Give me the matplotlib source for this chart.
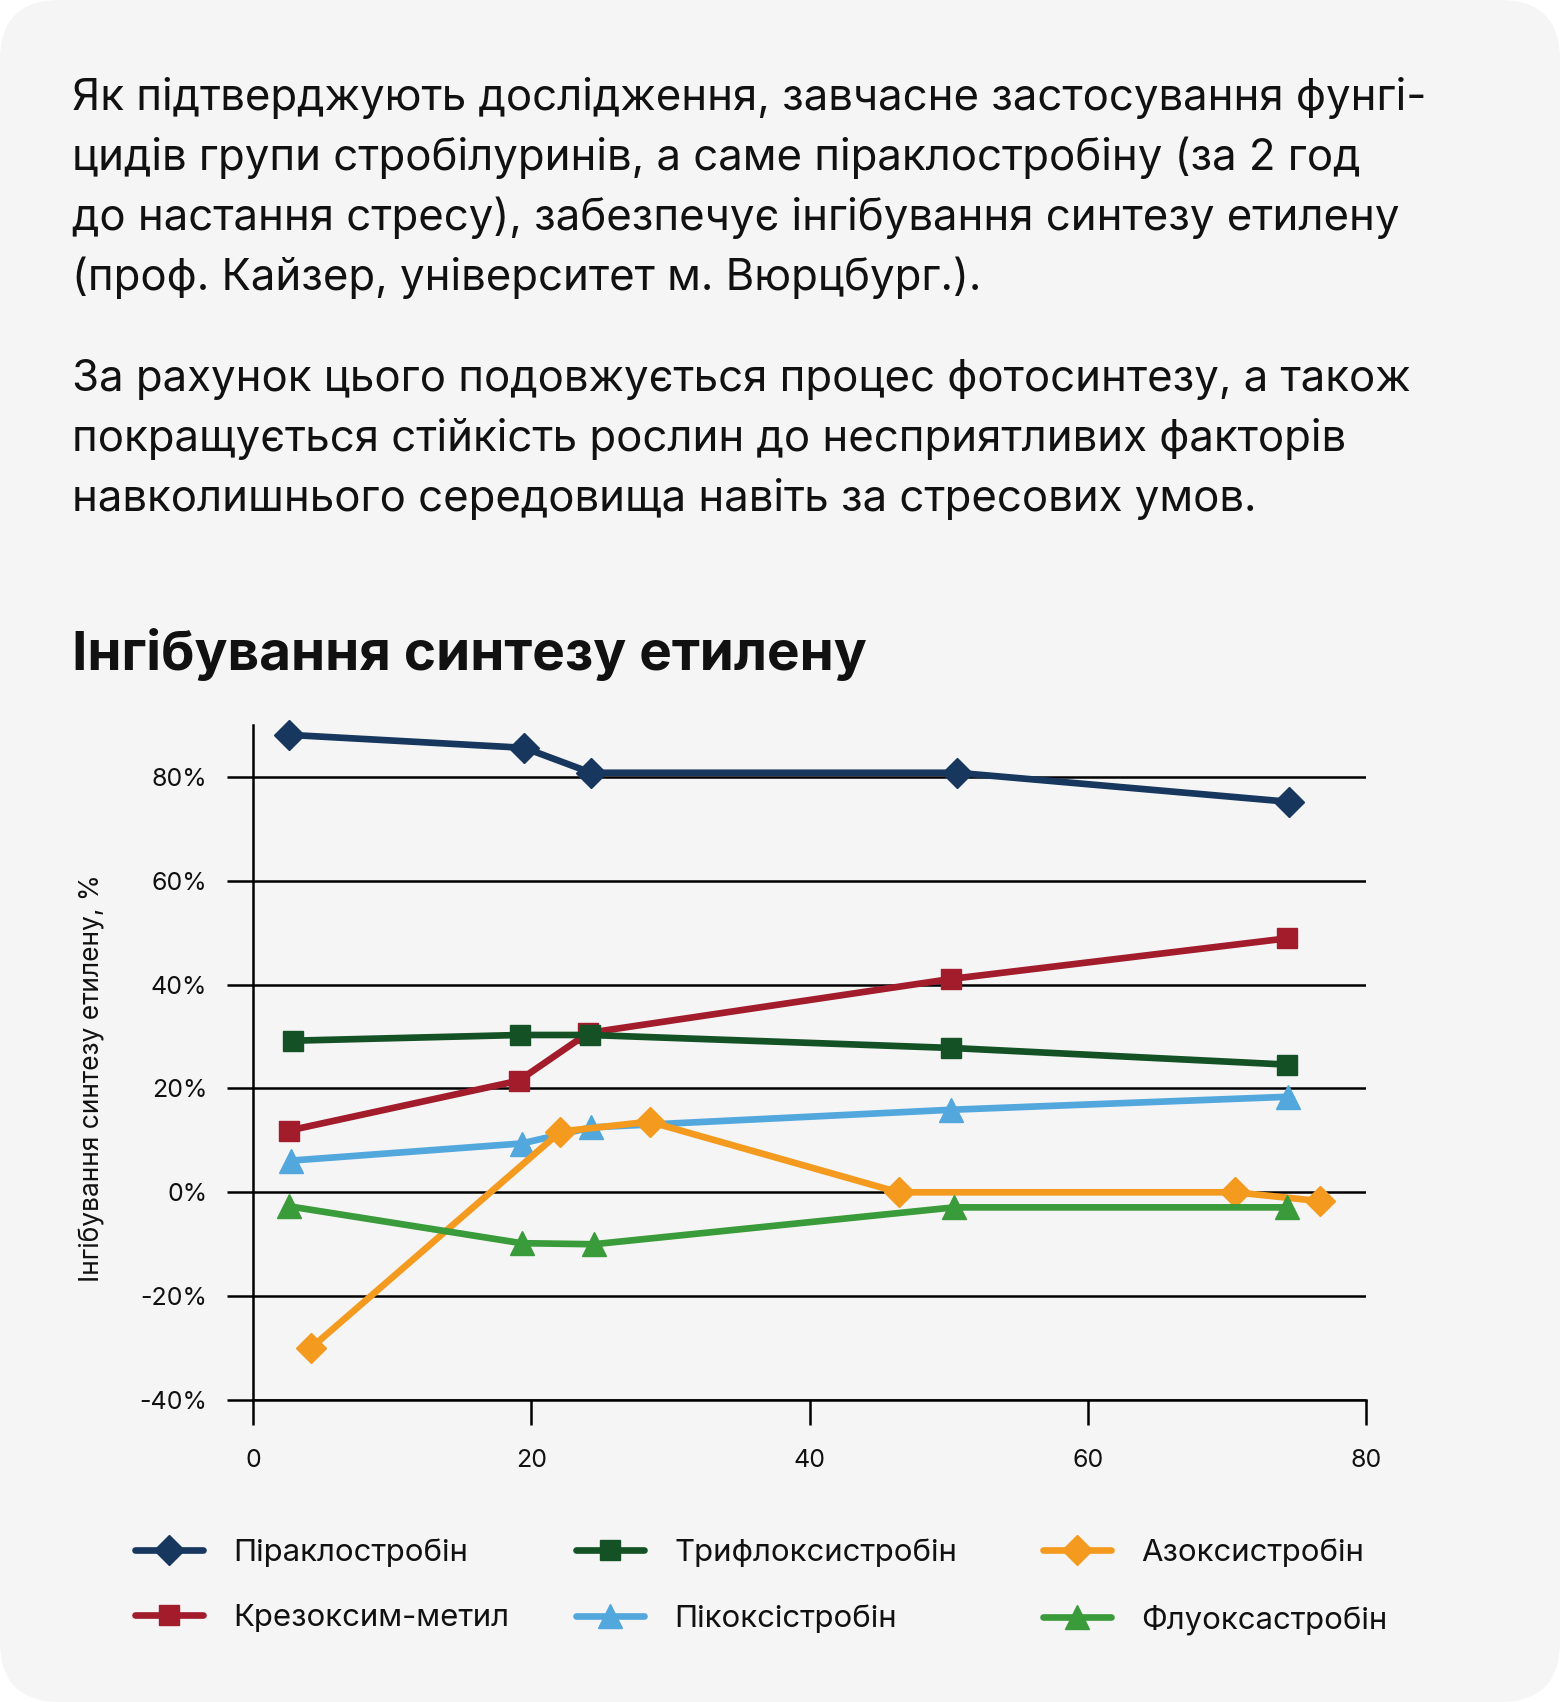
import matplotlib
matplotlib.use('Agg')
import matplotlib.pyplot as plt
import matplotlib.patches as mpatches
from matplotlib.lines import Line2D

plt.rcParams['font.family'] = ['Inter', 'DejaVu Sans']

# data (x is the unlabelled axis, y is inhibition in %)
pyraclo_x = [2.6, 19.5, 24.3, 50.6, 74.5]
pyraclo_y = [88.1, 85.6, 80.8, 80.8, 75.2]
kresox_x = [2.6, 19.1, 24.1, 50.2, 74.3]
kresox_y = [11.9, 21.5, 30.7, 41.1, 48.9]
triflox_x = [2.9, 19.2, 24.2, 50.2, 74.3]
triflox_y = [29.2, 30.3, 30.3, 27.8, 24.6]
picox_x = [2.7, 19.3, 24.3, 50.2, 74.4]
picox_y = [6.1, 9.4, 12.5, 15.9, 18.4]
azox_x = [4.2, 22.1, 28.5, 46.4, 70.6, 76.7]
azox_y = [-29.9, 11.7, 13.6, 0.0, 0.0, -1.7]
fluox_x = [2.6, 19.3, 24.5, 50.4, 74.3]
fluox_y = [-2.7, -9.8, -10.0, -2.9, -2.9]

names = ['Піраклостробін', 'Крезоксим-метил', 'Трифлоксистробін',
         'Пікоксістробін', 'Азоксистробін', 'Флуоксастробін']
colors = ['#17375e', '#a21c2c', '#145226', '#52a7dd', '#f39a1f', '#3a9b3a']
markers = ['D', 's', 's', '^', 'D', '^']
msizes = [15, 14.5, 14.5, 17, 15, 17]

x_ticks = [0, 20, 40, 60, 80]
y_ticks = [-40, -20, 0, 20, 40, 60, 80]

para1 = ['Як підтверджують дослідження, завчасне застосування фунгі-',
         'цидів групи стробілуринів, а саме піраклостробіну (за 2 год',
         'до настання стресу), забезпечує інгібування синтезу етилену',
         '(проф. Кайзер, університет м. Вюрцбург.).']
para2 = ['За рахунок цього подовжується процес фотосинтезу, а також',
         'покращується стійкість рослин до несприятливих факторів',
         'навколишнього середовища навіть за стресових умов.']
title = 'Інгібування синтезу етилену'
ylabel = 'Інгібування синтезу етилену, %'

W, H = 1560, 1702
fig = plt.figure(figsize=(W / 100, H / 100), dpi=100, facecolor='white')

# rounded grey card behind everything
card = mpatches.FancyBboxPatch((0, 0), W / 100, H / 100,
                               boxstyle='round,pad=0,rounding_size=0.6',
                               transform=fig.dpi_scale_trans,
                               facecolor='#f5f5f5', edgecolor='none', zorder=-10)
fig.patches.append(card)

def fx(px):
    return px / W

def fy(py):
    return 1 - py / H

txt_color = '#111111'
for i, line in enumerate(para1):
    fig.text(fx(72), fy(110 + 60 * i), line, fontsize=31.5, color=txt_color, va='baseline')
for i, line in enumerate(para2):
    fig.text(fx(72), fy(391 + 60 * i), line, fontsize=31.5, color=txt_color, va='baseline')
fig.text(fx(72), fy(670), title, fontsize=39.5, fontweight='bold', color=txt_color, va='baseline')

ax = fig.add_axes([fx(253), fy(1400), fx(1366) - fx(253), (1400 - 725) / H])
ax.set_facecolor('none')

series = [(pyraclo_x, pyraclo_y), (kresox_x, kresox_y), (triflox_x, triflox_y),
          (picox_x, picox_y), (azox_x, azox_y), (fluox_x, fluox_y)]
for (xs, ys), name, c, m, ms in zip(series, names, colors, markers, msizes):
    ax.plot(xs, ys, color=c, lw=4.8, marker=m, ms=ms, mec=c, mfc=c,
            label=name, clip_on=False, zorder=3)

ax.set_xlim(0, 80)
ax.set_ylim(-40, 90)
ax.set_xticks(x_ticks)
ax.set_yticks(y_ticks)
ax.set_yticklabels([f'{v}%' for v in y_ticks])
ax.yaxis.grid(True, color='black', lw=1.8)
ax.set_axisbelow(True)
for s in ['top', 'right']:
    ax.spines[s].set_visible(False)
for s in ['left', 'bottom']:
    ax.spines[s].set_linewidth(1.8)
    ax.spines[s].set_color('black')
ax.tick_params(axis='y', length=19, width=1.8, pad=14, labelsize=18, labelcolor=txt_color)
ax.tick_params(axis='x', length=18, width=1.8, pad=17, labelsize=18, labelcolor=txt_color)

fig.text(fx(92), fy(1078), ylabel, rotation=90, fontsize=19, color=txt_color,
         ha='center', va='center')

# legend: three columns, two rows
handles = [Line2D([], [], color=c, lw=4.8, marker=m, ms=ms, mec=c, mfc=c,
                  solid_capstyle='round')
           for c, m, ms in zip(colors, markers, msizes)]
col_x = [135, 576, 1043]
for k in range(3):
    leg = fig.legend(handles[2 * k:2 * k + 2], names[2 * k:2 * k + 2],
                     loc='upper left', bbox_to_anchor=(fx(col_x[k]), fy(1538)),
                     frameon=False, fontsize=22.4, handlelength=2.2, handletextpad=0.95,
                     labelspacing=1.2, borderaxespad=0, borderpad=0)
    for t in leg.get_texts():
        t.set_color(txt_color)

fig.savefig('out.png', dpi=100, facecolor='white')
